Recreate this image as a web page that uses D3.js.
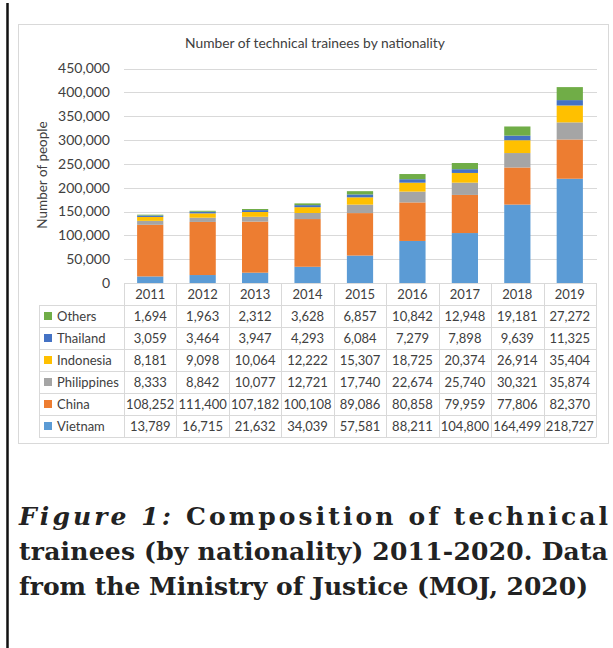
<!DOCTYPE html>
<html>
<head>
<meta charset="utf-8">
<script src="https://cdn.jsdelivr.net/npm/d3@7"></script>
<style>
  body { margin: 0; background: #fff; }
  svg text { font-family: Lato, "Open Sans", sans-serif; fill: #404040; }
  .caption text { font-family: "DejaVu Serif", serif; font-weight: bold; fill: #222; }
</style>
</head>
<body>
<div id="vis"></div>
<script>
// data
const YEARS = ["2011", "2012", "2013", "2014", "2015", "2016", "2017", "2018", "2019"];
const SERIES = ["Vietnam", "China", "Philippines", "Indonesia", "Thailand", "Others"];
const VIETNAM = [13789, 16715, 21632, 34039, 57581, 88211, 104800, 164499, 218727];
const CHINA = [108252, 111400, 107182, 100108, 89086, 80858, 79959, 77806, 82370];
const PHILIPPINES = [8333, 8842, 10077, 12721, 17740, 22674, 25740, 30321, 35874];
const INDONESIA = [8181, 9098, 10064, 12222, 15307, 18725, 20374, 26914, 35404];
const THAILAND = [3059, 3464, 3947, 4293, 6084, 7279, 7898, 9639, 11325];
const OTHERS = [1694, 1963, 2312, 3628, 6857, 10842, 12948, 19181, 27272];
const Y_TICKS = [0, 50000, 100000, 150000, 200000, 250000, 300000, 350000, 400000, 450000];
const COLORS = ["#5B9BD5", "#ED7D31", "#A5A5A5", "#FFC000", "#4472C4", "#70AD47"];

const VALUES = [VIETNAM, CHINA, PHILIPPINES, INDONESIA, THAILAND, OTHERS];

// frame constants
const FRAME_WIDTH = 613;
const FRAME_HEIGHT = 648;
const PLOT = {left: 124, right: 596, top: 68.5, bottom: 283};
const ROW_H = 22;
const GRID = "#d9d9d9";

const FRAME = d3.select("#vis")
                .append("svg")
                  .attr("width", FRAME_WIDTH)
                  .attr("height", FRAME_HEIGHT);

// black rule down the left side of the page
FRAME.append("line")
      .attr("x1", 7.5).attr("x2", 7.5)
      .attr("y1", 3).attr("y2", FRAME_HEIGHT)
      .attr("stroke", "#111")
      .attr("stroke-width", 2.5);

// chart border
FRAME.append("rect")
      .attr("x", 18.5).attr("y", 24.5)
      .attr("width", 590).attr("height", 419)
      .attr("fill", "none")
      .attr("stroke", GRID);

// title
FRAME.append("text")
      .attr("x", 315).attr("y", 48)
      .attr("text-anchor", "middle")
      .attr("font-size", "13.8px")
      .text("Number of technical trainees by nationality");

// scales
const X_SCALE = d3.scaleBand()
                  .domain(YEARS)
                  .range([PLOT.left, PLOT.right])
                  .paddingInner(0)
                  .paddingOuter(0);
const Y_SCALE = d3.scaleLinear()
                  .domain([0, 450000])
                  .range([PLOT.bottom, PLOT.top]);
const COLOR = d3.scaleOrdinal().domain(SERIES).range(COLORS);

// gridlines
FRAME.append("g")
      .selectAll("line")
      .data(Y_TICKS.slice(1))
      .enter()
      .append("line")
        .attr("x1", PLOT.left).attr("x2", PLOT.right + 1)
        .attr("y1", (d) => Math.round(Y_SCALE(d)) + 0.5)
        .attr("y2", (d) => Math.round(Y_SCALE(d)) + 0.5)
        .attr("stroke", GRID);

// y axis labels
const yAxis = FRAME.append("g")
      .attr("transform", "translate(110,0)")
      .call(d3.axisLeft(Y_SCALE).tickValues(Y_TICKS).tickSize(0).tickPadding(0).tickFormat(d3.format(",")));
yAxis.select(".domain").remove();
yAxis.selectAll("text")
      .attr("font-size", "14px")
      .attr("font-family", "Lato")
      .attr("fill", "#404040");

// y axis title
FRAME.append("text")
      .attr("transform", "translate(47,175) rotate(-90)")
      .attr("text-anchor", "middle")
      .attr("font-size", "13.5px")
      .text("Number of people");

// stacked bars
const rows = YEARS.map((y, i) => {
  const r = {year: y};
  SERIES.forEach((s, j) => { r[s] = VALUES[j][i]; });
  return r;
});
const stacked = d3.stack().keys(SERIES)(rows);
const BAR_W = X_SCALE.bandwidth() * 0.5;

FRAME.append("g")
      .selectAll("g")
      .data(stacked)
      .enter()
      .append("g")
        .attr("fill", (d) => COLOR(d.key))
      .selectAll("rect")
      .data((d) => d)
      .enter()
      .append("rect")
        .attr("x", (d) => X_SCALE(d.data.year) + (X_SCALE.bandwidth() - BAR_W) / 2)
        .attr("width", BAR_W)
        .attr("y", (d) => Y_SCALE(d[1]))
        .attr("height", (d) => Y_SCALE(d[0]) - Y_SCALE(d[1]));

// data table
const TABLE = FRAME.append("g");
const tableTop = PLOT.bottom;
const legendLeft = 39;
const tableRows = SERIES.slice().reverse();
const tableBottom = tableTop + ROW_H * (tableRows.length + 1);

// horizontal lines
TABLE.append("line")
      .attr("x1", PLOT.left).attr("x2", PLOT.right)
      .attr("y1", tableTop + 0.5).attr("y2", tableTop + 0.5)
      .attr("stroke", GRID);
d3.range(1, tableRows.length + 2).forEach((k) => {
  TABLE.append("line")
        .attr("x1", legendLeft).attr("x2", PLOT.right)
        .attr("y1", tableTop + k * ROW_H + 0.5).attr("y2", tableTop + k * ROW_H + 0.5)
        .attr("stroke", GRID);
});
// vertical lines
YEARS.concat(["end"]).forEach((y, i) => {
  const x = i < YEARS.length ? X_SCALE(y) : PLOT.right;
  TABLE.append("line")
        .attr("x1", Math.round(x) + 0.5).attr("x2", Math.round(x) + 0.5)
        .attr("y1", tableTop).attr("y2", tableBottom + 0.5)
        .attr("stroke", GRID);
});
TABLE.append("line")
      .attr("x1", legendLeft + 0.5).attr("x2", legendLeft + 0.5)
      .attr("y1", tableTop + ROW_H).attr("y2", tableBottom + 0.5)
      .attr("stroke", GRID);

// year header
TABLE.selectAll(".yr")
      .data(YEARS)
      .enter()
      .append("text")
        .attr("x", (d) => X_SCALE(d) + X_SCALE.bandwidth() / 2)
        .attr("y", tableTop + ROW_H / 2 + 5)
        .attr("text-anchor", "middle")
        .attr("font-size", "13px")
        .text((d) => d);

// rows
tableRows.forEach((s, r) => {
  const cy = tableTop + ROW_H * (r + 1) + ROW_H / 2;
  const vals = VALUES[SERIES.indexOf(s)];
  TABLE.append("rect")
        .attr("x", 44).attr("y", cy - 4)
        .attr("width", 8).attr("height", 8)
        .attr("fill", COLOR(s));
  TABLE.append("text")
        .attr("x", 57).attr("y", cy + 5)
        .attr("font-size", "13px")
        .text(s);
  TABLE.selectAll(".v" + r)
        .data(vals)
        .enter()
        .append("text")
          .attr("x", (d, i) => X_SCALE(YEARS[i]) + X_SCALE.bandwidth() / 2)
          .attr("y", cy + 5)
          .attr("text-anchor", "middle")
          .attr("font-size", "13px")
          .text((d) => d3.format(",")(d));
});

// figure caption
const CAP = FRAME.append("g").attr("class", "caption");
const line1 = CAP.append("text")
      .attr("x", 19).attr("y", 525)
      .attr("font-size", "25px")
      .attr("textLength", 589)
      .attr("lengthAdjust", "spacing");
line1.append("tspan").attr("font-style", "italic").text("Figure 1:");
line1.append("tspan").text(" Composition of technical");
CAP.append("text")
      .attr("x", 19).attr("y", 560)
      .attr("font-size", "25px")
      .attr("textLength", 589)
      .attr("lengthAdjust", "spacing")
      .text("trainees (by nationality) 2011-2020. Data");
CAP.append("text")
      .attr("x", 19).attr("y", 595)
      .attr("font-size", "25px")
      .text("from the Ministry of Justice (MOJ, 2020)");
</script>
</body>
</html>
